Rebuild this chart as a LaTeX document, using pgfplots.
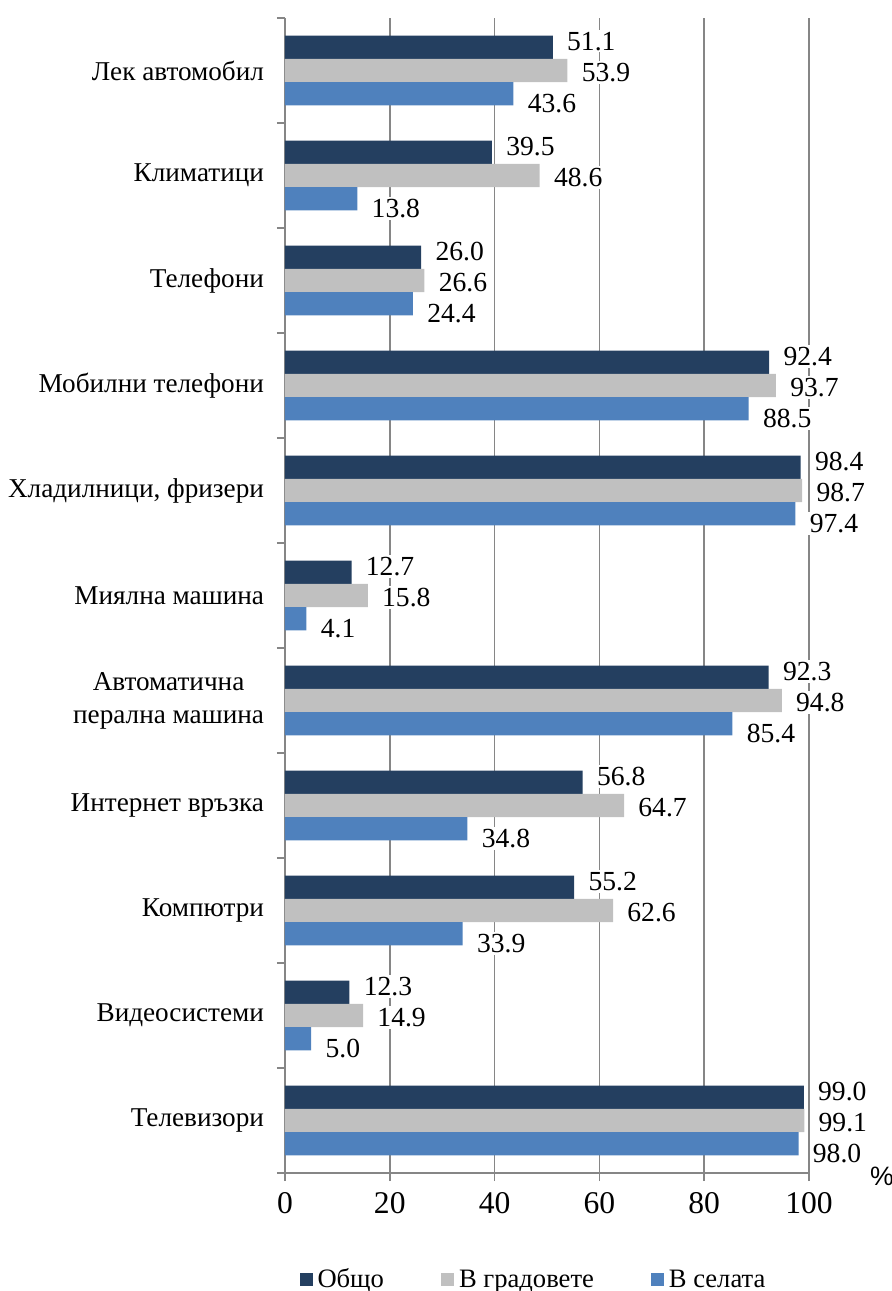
\documentclass[border=0pt]{standalone}
\usepackage{fontspec}
\setmainfont{Liberation Serif}
\newfontfamily\pctfont{Liberation Sans}
\usepackage{pgfplots}
\usepackage{pgfplotstable}
\pgfplotsset{compat=1.18}
\definecolor{cObs}{HTML}{243F60}
\definecolor{cGrad}{HTML}{C0C0C0}
\definecolor{cSel}{HTML}{4F81BD}
\definecolor{cGrid}{HTML}{868686}

\pgfplotstableread{
y x
10 51.1
9 39.5
8 26.0
7 92.4
6 98.4
5 12.7
4 92.3
3 56.8
2 55.2
1 12.3
0 99.0
}\obshto
\pgfplotstableread{
y x
10 53.9
9 48.6
8 26.6
7 93.7
6 98.7
5 15.8
4 94.8
3 64.7
2 62.6
1 14.9
0 99.1
}\gradove
\pgfplotstableread{
y x
10 43.6
9 13.8
8 24.4
7 88.5
6 97.4
5 4.1
4 85.4
3 34.8
2 33.9
1 5.0
0 98.0
}\selata

\begin{document}
\begin{tikzpicture}[font=\fontsize{13.3}{15.5}\selectfont]
\useasboundingbox (-142.5pt,-59pt) rectangle (303.5pt,586.5pt);
\begin{axis}[
  at={(0,0)}, anchor=south west,
  scale only axis,
  width=262pt, height=577.5pt,
  xbar, bar width=0.222,
  xmin=0, xmax=100,
  ymin=-0.5, ymax=10.5,
  clip=false,
  axis lines*=left,
  axis line style={cGrid, line width=0.8pt},
  every tick/.style={cGrid, line width=0.8pt},
  tick align=outside,
  major tick length=4pt,
  xtick={0,20,40,60,80,100},
  xticklabels={0,20,40,60,80,100},
  xmajorgrids,
  grid style={cGrid, line width=0.8pt},
  xticklabel style={yshift=-2pt, font=\fontsize{15.8}{18}\selectfont},
  ytick={-0.5,0.5,...,10.5},
  yticklabels={},
  extra y ticks={0,1,2,3,4,5,6,7,8,9,10},
  extra y tick labels={Телевизори,Видеосистеми,Компютри,Интернет връзка,{Автоматична\\перална машина},Миялна машина,{Хладилници, фризери},Мобилни телефони,Телефони,Климатици,Лек автомобил},
  extra y tick style={major tick length=0pt, yticklabel style={align=center, xshift=-7pt, font=\fontsize{13.6}{16.5}\selectfont}},
  xlabel={\pctfont\%},
  xlabel style={at={(axis description cs:1.139,-0.003)}, anchor=center},
  nodes near coords={\pgfmathprintnumber[fixed,zerofill,precision=1,assume math mode=true]{\pgfplotspointmeta}},
  every node near coord/.append style={anchor=west, fill=white, text=black, inner sep=1pt, xshift=6pt, font=\fontsize{13.8}{16}\selectfont},
  legend columns=3,
  legend style={at={(0.477,-0.0926)}, anchor=center, draw=none, fill=none,
    /tikz/every even column/.append style={column sep=26pt},
    nodes={inner xsep=2.5pt}},
  legend image code/.code={\fill[#1] (0pt,-3.25pt) rectangle (6.5pt,3.25pt);},
  legend cell align=left,
]
\addplot[fill=cObs, draw=none, bar shift=0.222,
  every node near coord/.append style={yshift=3pt}] table[x=x,y=y] {\obshto};
\addplot[fill=cGrad, draw=none, bar shift=0,
  every node near coord/.append style={yshift=-1pt}] table[x=x,y=y] {\gradove};
\addplot[fill=cSel, draw=none, bar shift=-0.222,
  every node near coord/.append style={yshift=-5pt}] table[x=x,y=y] {\selata};
\legend{Общо,В градовете,В селата}
\end{axis}
\end{tikzpicture}
\end{document}
